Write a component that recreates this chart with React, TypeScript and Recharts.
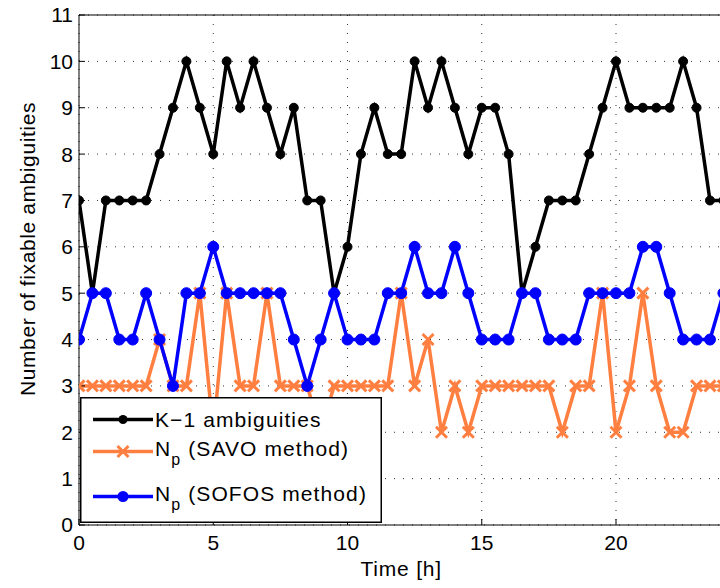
import React from 'react';
import { LineChart, Line, XAxis, YAxis, CartesianGrid, Legend, Label, ReferenceLine } from 'recharts';

// time of day in hours, one sample every half hour
const hours = [
  0, 0.5, 1, 1.5, 2, 2.5, 3, 3.5, 4, 4.5, 5, 5.5, 6, 6.5, 7, 7.5, 8, 8.5, 9, 9.5,
  10, 10.5, 11, 11.5, 12, 12.5, 13, 13.5, 14, 14.5, 15, 15.5, 16, 16.5, 17, 17.5,
  18, 18.5, 19, 19.5, 20, 20.5, 21, 21.5, 22, 22.5, 23, 23.5, 24,
];

const kMinus1 = [
  7, 5, 7, 7, 7, 7, 8, 9, 10, 9, 8, 10, 9, 10, 9, 8, 9, 7, 7, 5,
  6, 8, 9, 8, 8, 10, 9, 10, 9, 8, 9, 9, 8, 5, 6, 7,
  7, 7, 8, 9, 10, 9, 9, 9, 9, 10, 9, 7, 7,
];

const savo = [
  3, 3, 3, 3, 3, 3, 4, 3, 3, 5, 2, 5, 3, 3, 5, 3, 3, 3, 2, 3,
  3, 3, 3, 3, 5, 3, 4, 2, 3, 2, 3, 3, 3, 3, 3, 3,
  2, 3, 3, 5, 2, 3, 5, 3, 2, 2, 3, 3, 3,
];

const sofos = [
  4, 5, 5, 4, 4, 5, 4, 3, 5, 5, 6, 5, 5, 5, 5, 5, 4, 3, 4, 5,
  4, 4, 4, 5, 5, 6, 5, 5, 6, 5, 4, 4, 4, 5, 5, 4,
  4, 4, 5, 5, 5, 5, 6, 6, 5, 4, 4, 4, 5,
];

const xTicks = [0, 5, 10, 15, 20];
const yTicks = [0, 1, 2, 3, 4, 5, 6, 7, 8, 9, 10, 11];

const FONT = 'Liberation Sans, Arial, Helvetica, sans-serif';
const BLACK = '#000000';
const ORANGE = '#ff7f40';
const BLUE = '#0000ff';

const data = hours.map((t, i) => ({ t, k: kMinus1[i], savo: savo[i], sofos: sofos[i] }));

const Cross = (props: any) => {
  const { cx, cy } = props;
  if (cx == null || cy == null) return null;
  const s = 5.5;
  return (
    <g stroke={ORANGE} strokeWidth={3} strokeLinecap="butt">
      <line x1={cx - s} y1={cy - s} x2={cx + s} y2={cy + s} />
      <line x1={cx - s} y1={cy + s} x2={cx + s} y2={cy - s} />
    </g>
  );
};

const LegendBox = () => {
  const txt = { fontFamily: FONT, fontSize: 21, letterSpacing: 1.1, fill: '#000' } as const;
  return (
    <svg width={302} height={126} style={{ display: 'block' }}>
      <rect x={0.75} y={0.75} width={300.5} height={124.5} fill="#fff" stroke="#000" strokeWidth={1.5} />
      {/* K-1 */}
      <line x1={13} y1={22.5} x2={73} y2={22.5} stroke={BLACK} strokeWidth={3.5} />
      <circle cx={43} cy={22.5} r={4.5} fill={BLACK} />
      <text x={75} y={22.5} dy="0.36em" {...txt}>K−1 ambiguities</text>
      {/* SAVO */}
      <line x1={13} y1={54.5} x2={73} y2={54.5} stroke={ORANGE} strokeWidth={3.5} />
      <Cross cx={43} cy={54.5} />
      <text x={75} y={51} dy="0.36em" {...txt}>
        N<tspan dy={9} fontSize={16}>p</tspan><tspan dy={-9}> (SAVO method)</tspan>
      </text>
      {/* SOFOS */}
      <line x1={13} y1={99.5} x2={73} y2={99.5} stroke={BLUE} strokeWidth={3.5} />
      <circle cx={43} cy={99.5} r={5.5} fill={BLUE} />
      <text x={75} y={96} dy="0.36em" {...txt}>
        N<tspan dy={9} fontSize={16}>p</tspan><tspan dy={-9}> (SOFOS method)</tspan>
      </text>
    </svg>
  );
};

export default function App() {
  return (
    <div style={{ position: 'fixed', left: 0, top: 0, width: 720, height: 588, overflow: 'hidden', background: '#fff' }}>
      <LineChart width={760} height={588} data={data} margin={{ top: 15, right: 36.6, bottom: 33, left: 19 }}>
        <CartesianGrid stroke="#333" strokeDasharray="1 8" />
        <XAxis
          dataKey="t"
          type="number"
          domain={[0, 24]}
          ticks={xTicks}
          interval={0}
          allowDataOverflow
          height={30}
          axisLine={{ stroke: '#000', strokeWidth: 1 }}
          tickLine={{ stroke: '#000' }}
          tickSize={-6}
          tickMargin={16}
          tick={{ fill: '#000', fontSize: 21, fontFamily: FONT }}
        >
          <Label
            value="Time [h]"
            position="bottom"
            offset={6}
            style={{ fill: '#000', fontSize: 21, fontFamily: FONT, letterSpacing: 0.8 }}
          />
        </XAxis>
        <YAxis
          type="number"
          domain={[0, 11]}
          ticks={yTicks}
          interval={0}
          allowDataOverflow
          width={60}
          axisLine={{ stroke: '#000', strokeWidth: 1 }}
          tickLine={{ stroke: '#000' }}
          tickSize={-6}
          tickMargin={12}
          tick={{ fill: '#000', fontSize: 21, fontFamily: FONT }}
        >
          <Label
            content={() => (
              <text
                x={27}
                y={249}
                transform="rotate(-90, 27, 249)"
                textAnchor="middle"
                dominantBaseline="central"
                style={{ fill: '#000', fontSize: 21, fontFamily: FONT, letterSpacing: 0.6 }}
              >
                Number of fixable ambiguities
              </text>
            )}
          />
        </YAxis>
        <ReferenceLine y={11} stroke="#000" strokeWidth={1} />
        <Line
          dataKey="k"
          stroke={BLACK}
          strokeWidth={3.5}
          dot={{ r: 4.5, fill: BLACK, stroke: BLACK, strokeWidth: 1 }}
          isAnimationActive={false}
        />
        <Line
          dataKey="savo"
          stroke={ORANGE}
          strokeWidth={3.5}
          dot={(p: any) => <Cross key={`x-${p.index}`} {...p} />}
          isAnimationActive={false}
        />
        <Line
          dataKey="sofos"
          stroke={BLUE}
          strokeWidth={3.5}
          dot={{ r: 5.5, fill: BLUE, stroke: BLUE, strokeWidth: 1 }}
          isAnimationActive={false}
        />
        <Legend
          layout="vertical"
          align="center"
          verticalAlign="middle"
          content={() => <LegendBox />}
          wrapperStyle={{ left: 80, top: 397, width: 302, height: 126, margin: 0, padding: 0 }}
        />
      </LineChart>
    </div>
  );
}
